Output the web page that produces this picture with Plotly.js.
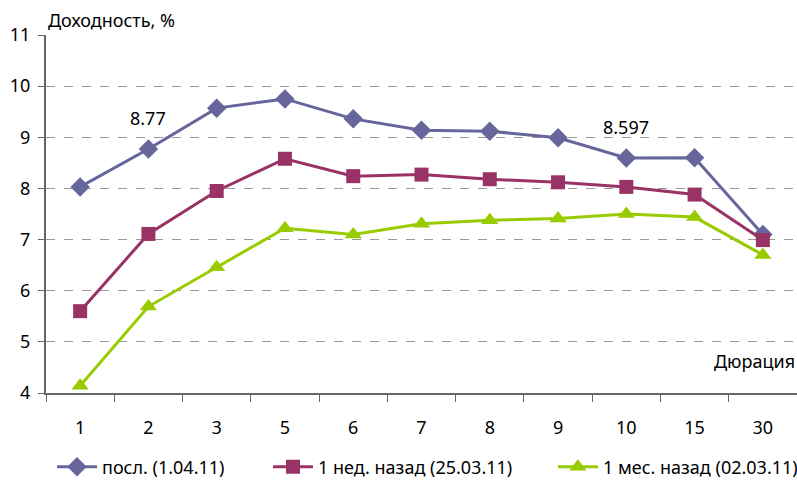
<!DOCTYPE html>
<html><head><meta charset="utf-8">
<script src="https://cdn.plot.ly/plotly-3.0.1.min.js"></script>
<style>html,body{margin:0;padding:0;background:#fff}#c{width:797px;height:482px}</style>
</head><body><div id="c"></div>
<script>
const categories = ['1','2','3','5','6','7','8','9','10','15','30'];
const seriesNames = ['посл. (1.04.11)', '1 нед. назад (25.03.11)', '1 мес. назад (02.03.11)'];
const latest = [8.03, 8.77, 9.57, 9.75, 9.36, 9.14, 9.12, 8.99, 8.597, 8.6, 7.1];
const weekAgo = [5.6, 7.11, 7.95, 8.58, 8.24, 8.27, 8.18, 8.12, 8.03, 7.88, 6.99];
const monthAgo = [4.14, 5.69, 6.46, 7.22, 7.1, 7.31, 7.38, 7.41, 7.5, 7.44, 6.7];
const labelIdx = [1, 8];

const font = 'Noto Sans, Open Sans, sans-serif';
const colors = ['#66669c', '#993366', '#99cc00'];
const symbols = ['diamond', 'square', 'triangle-up'];
const sizes = [15, 14, 15];
const legendIds = ['legend', 'legend2', 'legend3'];
const legendX = [0.008, 0.2956, 0.675];
const data = [latest, weekAgo, monthAgo].map((v, i) => ({
  x: categories, y: v, name: seriesNames[i], type: 'scatter', mode: 'lines+markers',
  line: {color: colors[i], width: 3},
  marker: {color: colors[i], symbol: symbols[i], size: sizes[i]},
  cliponaxis: false, legend: legendIds[i]
}));

const annotations = labelIdx.map(i => ({
  x: i, y: latest[i], xref: 'x', yref: 'y', text: String(latest[i]),
  showarrow: false, yshift: 31, font: {family: font, size: 18, color: '#000'}
}));
annotations.push({xref: 'paper', yref: 'paper', x: 1, y: 0.05, xanchor: 'right', yanchor: 'bottom',
  text: 'Дюрация', showarrow: false, font: {family: font, size: 18, color: '#000'}});
annotations.push({xref: 'paper', yref: 'paper', x: 0, y: 1, xanchor: 'left', yanchor: 'bottom', yshift: 1,
  text: 'Доходность, %', showarrow: false, font: {family: font, size: 18, color: '#000'}});

const layout = {
  width: 797, height: 482,
  margin: {l: 46, r: 0, t: 35, b: 89, autoexpand: false},
  paper_bgcolor: '#fff', plot_bgcolor: '#fff',
  font: {family: font, size: 18, color: '#000'},
  showlegend: true,
  xaxis: {type: 'category', range: [-0.5, 10.5], tickson: 'boundaries', ticks: 'outside', ticklen: 7, tickcolor: '#666',
    showline: true, linecolor: '#666', linewidth: 2, showgrid: false, zeroline: false,
    ticklabelstandoff: 17, fixedrange: true},
  yaxis: {range: [4, 11], dtick: 1, ticks: 'outside', ticklen: 6, tickcolor: '#666',
    showline: true, linecolor: '#666', linewidth: 2, showgrid: true, gridcolor: '#9a9a9a',
    griddash: 'dash', gridwidth: 1, zeroline: false, ticklabelstandoff: 4},
  annotations: annotations
};
legendIds.forEach((id, i) => {
  layout[id] = {orientation: 'h', x: legendX[i], xanchor: 'left', y: -0.207, yanchor: 'middle',
    font: {family: font, size: 18, color: '#000'}, itemwidth: 40, bgcolor: 'rgba(0,0,0,0)'};
});
Plotly.newPlot('c', data, layout, {displayModeBar: false, staticPlot: true});
</script></body></html>
